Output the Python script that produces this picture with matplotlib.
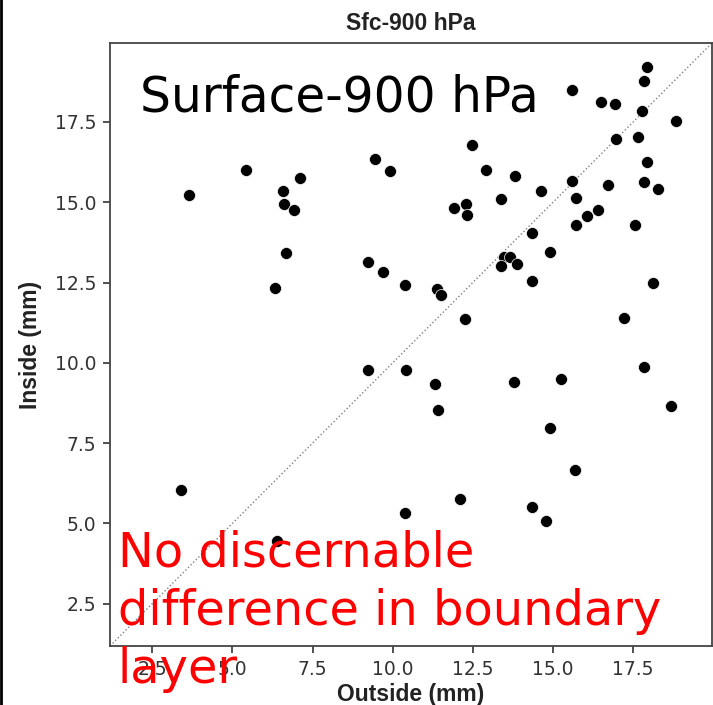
import matplotlib
matplotlib.use("Agg")
import matplotlib.pyplot as plt
from matplotlib.lines import Line2D

# Sfc-900 hPa precipitation, outside vs inside (mm)
outside = [3.65, 5.41, 7.10, 6.57, 6.61, 6.91, 6.67, 6.33,
           9.44, 9.92, 12.47, 12.91, 13.81, 13.37, 11.90, 12.28, 12.32,
           9.22, 9.69, 10.37, 11.37, 11.52, 12.27, 13.48, 13.65, 13.38, 13.87,
           17.94, 17.83, 15.59, 16.49, 16.93, 17.79, 18.85, 16.97, 17.65, 17.94,
           14.62, 15.58, 16.72, 17.83, 18.28, 15.73, 16.06, 16.40, 15.73, 17.55,
           14.33, 14.91, 14.33, 18.12, 17.22,
           3.41, 6.40,
           9.22, 10.40, 11.32, 11.41, 13.77, 12.10, 10.37,
           15.24, 17.84, 18.67, 14.91, 15.69, 14.34, 14.77]
inside = [15.24, 16.01, 15.76, 15.35, 14.95, 14.77, 13.42, 12.32,
          16.34, 15.97, 16.78, 16.01, 15.81, 15.11, 14.82, 14.96, 14.61,
          13.14, 12.84, 12.42, 12.31, 12.11, 11.37, 13.30, 13.30, 13.00, 13.09,
          19.22, 18.79, 18.51, 18.12, 18.07, 17.83, 17.54, 16.97, 17.02, 16.26,
          15.36, 15.65, 15.53, 15.64, 15.40, 15.12, 14.58, 14.77, 14.29, 14.29,
          14.05, 13.46, 12.56, 12.47, 11.41,
          6.03, 4.46,
          9.78, 9.78, 9.35, 8.53, 9.39, 5.75, 5.32,
          9.49, 9.88, 8.67, 7.96, 6.67, 5.51, 5.08]
lims = [1.18, 19.96]
ticks = [2.5, 5.0, 7.5, 10.0, 12.5, 15.0, 17.5]

fig = plt.figure(figsize=(7.13, 7.05), dpi=100)
ax = fig.add_axes([110/713, 59/705, 602/713, 603/705])

ax.plot(lims, lims, ls=':', color='gray', lw=1, zorder=1)
ax.scatter(outside, inside, s=75, color='black', edgecolor='white', linewidth=0.5, zorder=2)

ax.set_xlim(lims)
ax.set_ylim(lims)
ax.set_xticks(ticks)
ax.set_yticks(ticks)
ax.tick_params(labelsize=13.5, colors='#333333', length=5, width=1.2, pad=5)
for sp in ax.spines.values():
    sp.set_color('#444444')
    sp.set_linewidth(1.3)

lab = dict(family='Liberation Sans', fontweight='bold', fontsize=16.5, color='#222222')
ax.set_title('Sfc-900 hPa', pad=9, **lab)
ax.set_xlabel('Outside (mm)', labelpad=3, **lab)
ax.set_ylabel('Inside (mm)', labelpad=9, **lab)

# overlaid annotations
fig.text(140/713, 1 - 111/705, 'Surface-900 hPa', fontsize=35, color='black',
         ha='left', va='baseline')
fig.text(118/713, 1 - 683/705, 'No discernable\ndifference in boundary\nlayer',
         fontsize=34.5, color='red', ha='left', va='baseline', linespacing=1.31)

fig.add_artist(Line2D([0.0015, 0.0015], [0, 1], transform=fig.transFigure,
                      color='black', lw=2))

fig.savefig('out.png', dpi=100)
